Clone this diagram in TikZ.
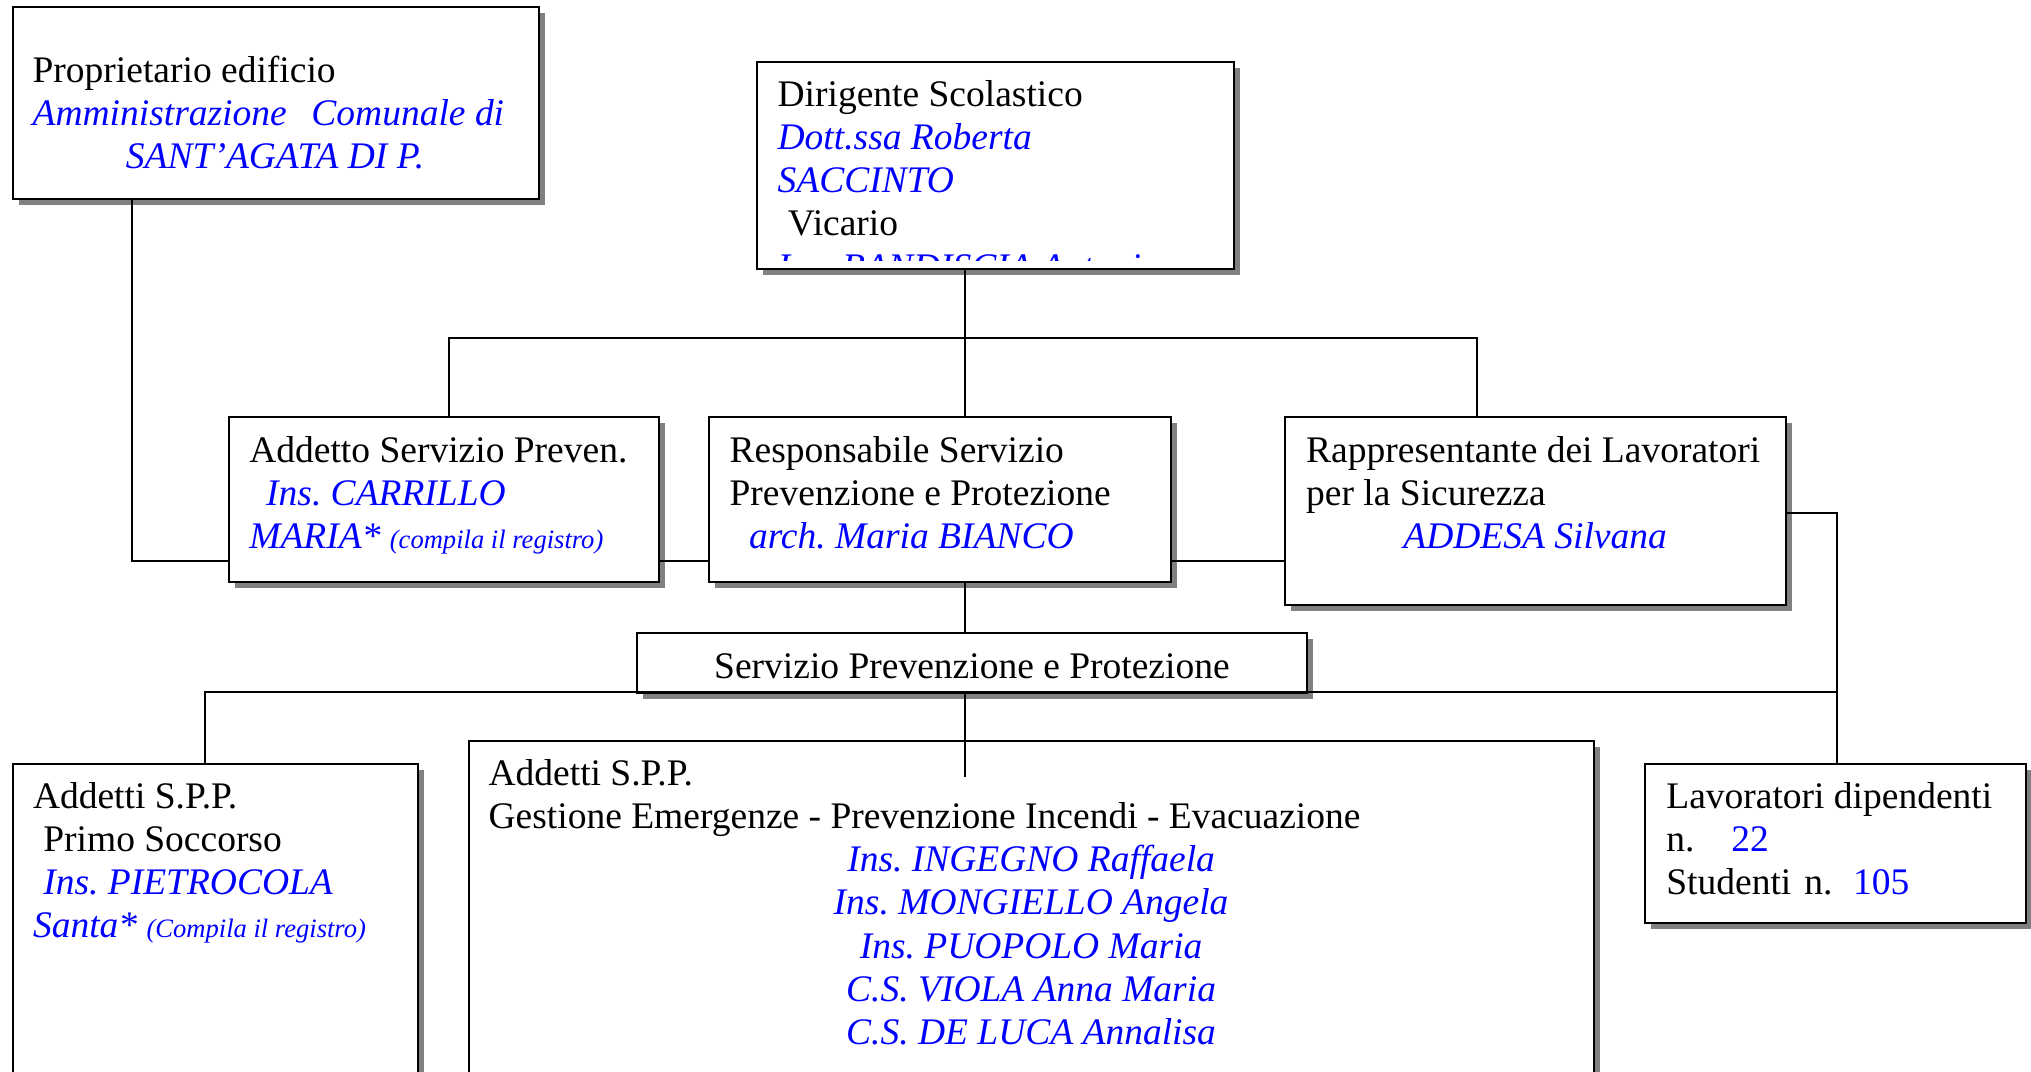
\documentclass[tikz,border=0pt]{standalone}
\usepackage{fontspec}
\setmainfont{Liberation Serif}
\frenchspacing
\usetikzlibrary{shadows, positioning}
\definecolor{colorName}{RGB}{0, 0, 255}
\definecolor{colorShadow}{RGB}{128, 128, 128}
\tikzstyle{role} = [rectangle, draw=black, line width=0.6pt, fill=white, inner sep=0pt, anchor=north west, drop shadow={shadow xshift=2pt, shadow yshift=-2pt, fill=colorShadow, opacity=1}]
\tikzstyle{roletext} = [anchor=north west, inner sep=0pt, align=flush left, font=\fontsize{12}{13.8}\selectfont]
\tikzstyle{link} = [line width=0.5pt, draw=black]
\newcommand{\nome}[1]{\textcolor{colorName}{\itshape #1}}
\newcommand{\nota}[1]{{\fontsize{8.5}{10}\selectfont #1}}

\begin{document}
\begin{tikzpicture}[x=0.32pt, y=-0.32pt]

		\useasboundingbox (0,0) rectangle (2031,1071);
		\clip (0,0) rectangle (2031,1071);

		% boxes
		\node (bProprietario)[role, minimum width=168.3pt, minimum height=61.4pt] at (12,6) {};
		\node (bDirigente)[role, minimum width=152.6pt, minimum height=66.2pt] at (756,61) {};
		\node (bAddetto)[role, minimum width=137.6pt, minimum height=52.8pt] at (228,416) {};
		\node (bResponsabile)[role, minimum width=147.8pt, minimum height=52.8pt] at (708,416) {};
		\node (bRappresentante)[role, minimum width=160.3pt, minimum height=60.2pt] at (1284,416) {};
		\node (bServizio)[role, minimum width=214.4pt, minimum height=19.2pt, font=\fontsize{12}{13.8}\selectfont, text height=10pt, text depth=0pt] at (636,632) {Servizio Prevenzione e Protezione};
		\node (bSoccorso)[role, minimum width=129.6pt, minimum height=107.8pt] at (12,763) {};
		\node (bEmergenze)[role, minimum width=360pt, minimum height=115.2pt] at (468,740) {};
		\node (bLavoratori)[role, minimum width=121.9pt, minimum height=50.9pt] at (1644,763) {};

		% texts
		\node (tProprietario)[roletext, text width=165pt] at (32,51.4) {\strut Proprietario edificio\\ \nome{Amministrazione\hspace{7.9pt}Comunale di}\\ \makebox[155.2pt]{\nome{SANT'AGATA DI P.}}};

		\begin{scope}
			\clip (bDirigente.north west) rectangle (1233,260);
			\node (tDirigente)[roletext, text width=145pt] at (777,75.8) {\strut Dirigente Scolastico\\ \nome{Dott.ssa Roberta}\\ \nome{SACCINTO}\\ \hspace*{3.3pt}Vicario\\ \nome{Ins. BANDISCIA Antonio}};
		\end{scope}

		\node (tAddetto)[roletext, text width=130pt] at (248.7,431.8) {\strut Addetto Servizio Preven.\\ \hspace*{5.4pt}\nome{Ins. CARRILLO}\\ \nome{MARIA*} \nota{\nome{(compila il registro)}}};
		\node (tResponsabile)[roletext, text width=140pt] at (729,431.8) {\strut Responsabile Servizio\\ Prevenzione e Protezione\\ \hspace*{6.2pt}\nome{arch. Maria BIANCO}};
		\node (tRappresentante)[roletext, text width=165pt] at (1305.6,431.8) {\strut Rappresentante dei Lavoratori\\ per la Sicurezza\\ \makebox[146.5pt]{\nome{ADDESA Silvana}}};
		\node (tSoccorso)[roletext, text width=125pt] at (32.4,777.8) {\strut Addetti S.P.P.\\ \hspace*{3.3pt}Primo Soccorso\\ \hspace*{3.3pt}\nome{Ins. PIETROCOLA}\\ \nome{Santa*} \nota{\nome{(Compila il registro)}}};
		\node (tEmergenze)[roletext, text width=350pt] at (488,754.8) {\strut Addetti S.P.P.\\ Gestione Emergenze - Prevenzione Incendi - Evacuazione\\ \makebox[347.2pt]{\nome{Ins. INGEGNO Raffaela}}\\ \makebox[347.2pt]{\nome{Ins. MONGIELLO Angela}}\\ \makebox[347.2pt]{\nome{Ins. PUOPOLO Maria}}\\ \makebox[347.2pt]{\nome{C.S. VIOLA Anna Maria}}\\ \makebox[347.2pt]{\nome{C.S. DE LUCA Annalisa}}};
		\node (tLavoratori)[roletext, text width=115pt] at (1665.7,777.8) {\strut Lavoratori dipendenti\\ n.\hspace{11.8pt}\textcolor{colorName}{22}\\ Studenti\hspace{4.2pt}n.\hspace{6.6pt}\textcolor{colorName}{105}};

		% bends of the lines
		\coordinate (dummy1) at (132,561);
		\coordinate (dummy2) at (965,338);
		\coordinate (dummy3) at (449,338);
		\coordinate (dummy4) at (1477,338);
		\coordinate (dummy5) at (965,777);
		\coordinate (dummy6) at (205,692);
		\coordinate (dummy7) at (1837,692);
		\coordinate (dummy8) at (1837,513);

		% lines
		\draw[link] (bProprietario.south -| dummy1) -- (dummy1) -- (bAddetto.west |- dummy1);
		\draw[link] (bAddetto.east |- dummy1) -- (bResponsabile.west |- dummy1);
		\draw[link] (bResponsabile.east |- dummy1) -- (bRappresentante.west |- dummy1);
		\draw[link] (bDirigente.south -| dummy2) -- (dummy2);
		\draw[link] (bAddetto.north -| dummy3) -- (dummy3) -- (dummy4) -- (bRappresentante.north -| dummy4);
		\draw[link] (dummy2) -- (bResponsabile.north -| dummy2);
		\draw[link] (bResponsabile.south -| dummy2) -- (bServizio.north -| dummy2);
		\draw[link] (bServizio.south -| dummy5) -- (dummy5);
		\draw[link] (bSoccorso.north -| dummy6) -- (dummy6) -- (dummy7);
		\draw[link] (bRappresentante.east |- dummy8) -- (dummy8) -- (bLavoratori.north -| dummy8);

\end{tikzpicture}
\end{document}
